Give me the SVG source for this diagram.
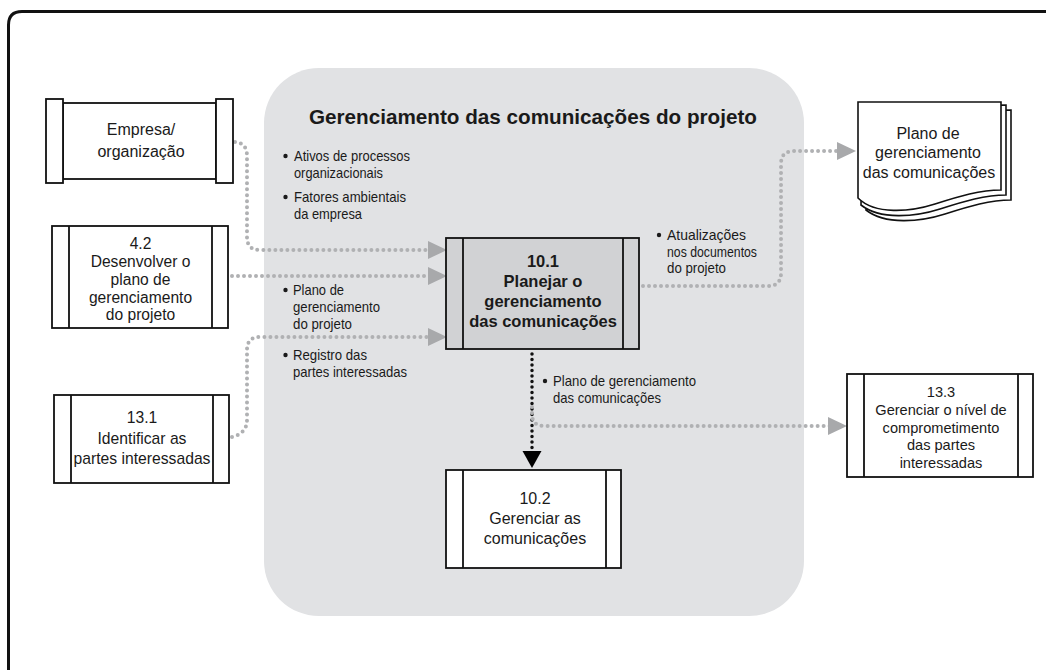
<svg xmlns="http://www.w3.org/2000/svg" width="1046" height="670" viewBox="0 0 1046 670">
<style>
.t{font-family:"Liberation Sans",Arial,sans-serif;fill:#1a1a1a}
.c{text-anchor:middle}
.b{font-weight:bold}
.box{fill:#fff;stroke:#111;stroke-width:1.8}
.gbox{fill:#d1d2d4;stroke:#111;stroke-width:1.8}
.ln{stroke:#111;stroke-width:1.8;fill:none}
.dg{fill:none;stroke:#b0b1b3;stroke-width:4;stroke-dasharray:0 6;stroke-linecap:round}
.db{fill:none;stroke:#111;stroke-width:3.5;stroke-dasharray:0 5.5;stroke-linecap:round}
.bl{font-size:14.5px}
.bul{fill:#1a1a1a}
</style>
<defs>
<marker id="ga" markerUnits="userSpaceOnUse" markerWidth="20" markerHeight="20" viewBox="0 0 20 20" refX="5" refY="10" orient="auto"><path d="M0,1 L19,10 L0,19 Z" fill="#a8a9ab"/></marker>
<marker id="ba" markerUnits="userSpaceOnUse" markerWidth="20" markerHeight="20" viewBox="0 0 20 20" refX="4" refY="10" orient="auto"><path d="M0,0.5 L17,10 L0,19.5 Z" fill="#000"/></marker>
</defs>
<rect width="1046" height="670" fill="#fff"/>
<path d="M8.5,675 L8.5,25 Q8.5,11.5 22,11.5 L1050,11.5" fill="none" stroke="#111" stroke-width="3"/>
<g id="region">
<rect x="264" y="68" width="540" height="548" rx="55" fill="#e1e2e4"/>
<text class="t b" x="309" y="124" font-size="20.8" textLength="448" lengthAdjust="spacingAndGlyphs">Gerenciamento das comunicações do projeto</text>
</g>
<g id="labels">
<circle class="bul" cx="285.5" cy="156" r="2.2"/>
<text class="t bl" x="294" y="161" textLength="116" lengthAdjust="spacingAndGlyphs">Ativos de processos</text>
<text class="t bl" x="294" y="178" textLength="89" lengthAdjust="spacingAndGlyphs">organizacionais</text>
<circle class="bul" cx="285.5" cy="197" r="2.2"/>
<text class="t bl" x="294" y="202" textLength="112" lengthAdjust="spacingAndGlyphs">Fatores ambientais</text>
<text class="t bl" x="294" y="219" textLength="68" lengthAdjust="spacingAndGlyphs">da empresa</text>
<circle class="bul" cx="285.5" cy="290" r="2.2"/>
<text class="t bl" x="293" y="295" textLength="51" lengthAdjust="spacingAndGlyphs">Plano de</text>
<text class="t bl" x="293" y="312" textLength="87" lengthAdjust="spacingAndGlyphs">gerenciamento</text>
<text class="t bl" x="293" y="329" textLength="59" lengthAdjust="spacingAndGlyphs">do projeto</text>
<circle class="bul" cx="285.5" cy="355" r="2.2"/>
<text class="t bl" x="293" y="360" textLength="74" lengthAdjust="spacingAndGlyphs">Registro das</text>
<text class="t bl" x="293" y="377" textLength="114" lengthAdjust="spacingAndGlyphs">partes interessadas</text>
<circle class="bul" cx="659" cy="235" r="2.2"/>
<text class="t bl" x="667" y="240" textLength="79" lengthAdjust="spacingAndGlyphs">Atualizações</text>
<text class="t bl" x="667" y="257" textLength="90" lengthAdjust="spacingAndGlyphs">nos documentos</text>
<text class="t bl" x="667" y="273" textLength="59" lengthAdjust="spacingAndGlyphs">do projeto</text>
<circle class="bul" cx="545" cy="381" r="2.2"/>
<text class="t bl" x="553" y="386" textLength="143" lengthAdjust="spacingAndGlyphs">Plano de gerenciamento</text>
<text class="t bl" x="553" y="403" textLength="108" lengthAdjust="spacingAndGlyphs">das comunicações</text>
</g>
<g id="connectors">
<path class="dg" d="M235,142 Q247,143 247,156 L247,237 Q247,250 260,250 L433,250" marker-end="url(#ga)"/>
<path class="dg" d="M232,276 L433,276" marker-end="url(#ga)"/>
<path class="dg" d="M232,437 Q247,433 247,420 L247,350 Q247,337 260,337 L433,337" marker-end="url(#ga)"/>
<path class="dg" d="M643,286 L768,286 Q781,286 781,273 L781,164 Q781,151 794,151 L842,151" marker-end="url(#ga)"/>
<path class="db" d="M532,354 L532,455" marker-end="url(#ba)"/>
<path class="dg" d="M532,407 L532,414 Q532,426 544,426 L833,426" marker-end="url(#ga)"/>
</g>
<g id="empresa">
<rect class="box" x="63" y="103" width="153" height="76"/>
<rect class="box" x="46" y="99" width="17" height="84"/>
<rect class="box" x="216" y="99" width="17" height="84"/>
<text class="t c" x="141" y="135" font-size="16">Empresa/</text>
<text class="t c" x="141" y="157" font-size="16">organização</text>
</g>
<g id="p42">
<rect class="box" x="52" y="226" width="176" height="102"/>
<path class="ln" d="M69,226 V328 M212,226 V328"/>
<text class="t c" x="140.5" y="248.5" font-size="15.6">4.2</text>
<text class="t c" x="140.5" y="266.5" font-size="15.6">Desenvolver o</text>
<text class="t c" x="140.5" y="284.5" font-size="15.6">plano de</text>
<text class="t c" x="140.5" y="302.5" font-size="15.6">gerenciamento</text>
<text class="t c" x="140.5" y="320" font-size="15.6">do projeto</text>
</g>
<g id="p131">
<rect class="box" x="54" y="395" width="175" height="88"/>
<path class="ln" d="M71,395 V483 M213,395 V483"/>
<text class="t c" x="142" y="423" font-size="15.7">13.1</text>
<text class="t c" x="142" y="444" font-size="15.7">Identificar as</text>
<text class="t c" x="142" y="463.5" font-size="15.7">partes interessadas</text>
</g>
<g id="p101">
<rect class="gbox" x="446" y="238" width="193" height="111"/>
<path class="ln" d="M463,238 V349 M623,238 V349"/>
<text class="t c b" x="543" y="267" font-size="16.5">10.1</text>
<text class="t c b" x="543" y="287" font-size="16.5">Planejar o</text>
<text class="t c b" x="543" y="306.5" font-size="16.5">gerenciamento</text>
<text class="t c b" x="543" y="327" font-size="16.5">das comunicações</text>
</g>
<g id="p102">
<rect class="box" x="446" y="470" width="175" height="98"/>
<path class="ln" d="M463,470 V568 M606,470 V568"/>
<text class="t c" x="535" y="504" font-size="16">10.2</text>
<text class="t c" x="535" y="524" font-size="16">Gerenciar as</text>
<text class="t c" x="535" y="544" font-size="16">comunicações</text>
</g>
<g id="p133">
<rect class="box" x="847" y="374" width="186" height="103"/>
<path class="ln" d="M864,374 V477 M1018,374 V477"/>
<text class="t c" x="941" y="397" font-size="14.6">13.3</text>
<text class="t c" x="941" y="415" font-size="14.6">Gerenciar o nível de</text>
<text class="t c" x="941" y="432.5" font-size="14.6">comprometimento</text>
<text class="t c" x="941" y="450" font-size="14.6">das partes</text>
<text class="t c" x="941" y="467.5" font-size="14.6">interessadas</text>
</g>
<g id="doc">
<path d="M868,112 L1011,110 L1011,200 C990,200 970,206 945,214 C920,222 885,225 866,210 Z" fill="#fff" stroke="#111" stroke-width="1.6"/>
<path d="M863,107 L1006,105 L1006,195 C985,195 965,201 940,209 C915,217 880,220 861,205 Z" fill="#fff" stroke="#111" stroke-width="1.6"/>
<path d="M858,102 L1001,102 L1001,190 C980,190 960,196 935,204 C910,212 875,215 858,198 Z" fill="#fff" stroke="#111" stroke-width="1.6"/>
<text class="t c" x="928" y="138.5" font-size="16">Plano de</text>
<text class="t c" x="928" y="158" font-size="16">gerenciamento</text>
<text class="t c" x="929" y="177.5" font-size="16">das comunicações</text>
</g>
</svg>
